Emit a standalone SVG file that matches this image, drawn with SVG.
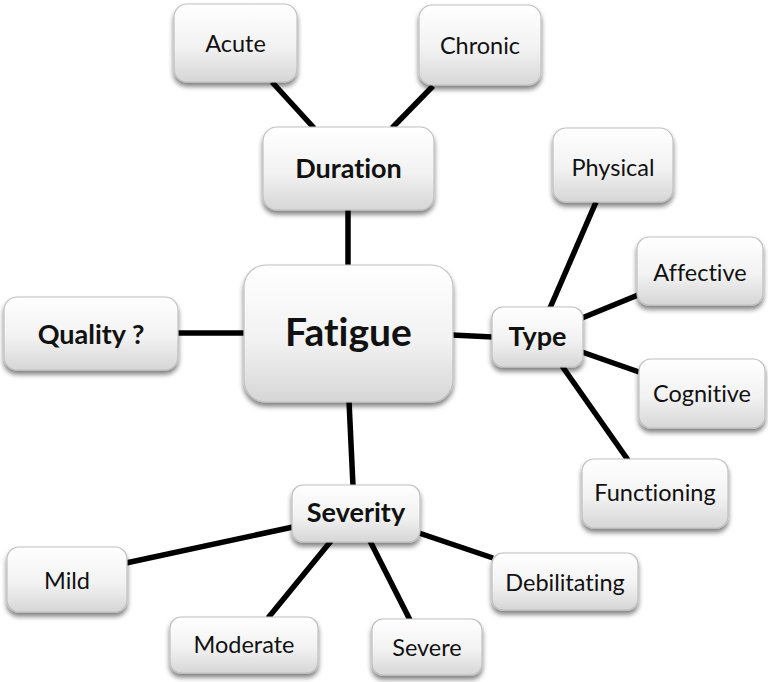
<svg xmlns="http://www.w3.org/2000/svg" width="768" height="682" viewBox="0 0 768 682">
<defs>
<linearGradient id="g" x1="0" y1="0" x2="0" y2="1">
<stop offset="0" stop-color="#ffffff"/>
<stop offset="0.55" stop-color="#f2f2f2"/>
<stop offset="1" stop-color="#d6d6d6"/>
</linearGradient>
<filter id="sh" x="-20%" y="-20%" width="140%" height="150%">
<feGaussianBlur in="SourceAlpha" stdDeviation="2.5"/>
<feOffset dx="0" dy="4" result="b"/>
<feComponentTransfer><feFuncA type="linear" slope="0.5"/></feComponentTransfer>
<feMerge><feMergeNode/><feMergeNode in="SourceGraphic"/></feMerge>
</filter>
</defs>
<style>
.box{fill:url(#g);stroke:#c0c0c0;stroke-width:1.2;filter:url(#sh)}
.t{font-family:Lato,"Liberation Sans",sans-serif;font-size:23.5px;fill:#111;text-anchor:middle;font-variant-ligatures:none;font-feature-settings:"liga" 0}
.b{font-family:Lato,"Liberation Sans",sans-serif;font-size:27px;font-weight:bold;fill:#111;text-anchor:middle;font-variant-ligatures:none;font-feature-settings:"liga" 0}
.c{stroke:#000;stroke-width:5.5;fill:none}
</style>
<g id="connectors">
<line class="c" x1="272" y1="82" x2="314" y2="128"/>
<line class="c" x1="433" y1="86" x2="392" y2="128"/>
<line class="c" x1="348" y1="210" x2="348" y2="266"/>
<line class="c" x1="178" y1="333" x2="245" y2="333"/>
<line class="c" x1="452" y1="335" x2="493" y2="337"/>
<line class="c" x1="596" y1="202" x2="550" y2="308"/>
<line class="c" x1="582" y1="318" x2="638" y2="295"/>
<line class="c" x1="582" y1="352" x2="639" y2="372"/>
<line class="c" x1="562" y1="366" x2="628" y2="460"/>
<line class="c" x1="349" y1="401" x2="353" y2="486"/>
<line class="c" x1="126" y1="563" x2="293" y2="527"/>
<line class="c" x1="331" y1="541" x2="268" y2="618"/>
<line class="c" x1="370" y1="541" x2="410" y2="620"/>
<line class="c" x1="419" y1="533" x2="493" y2="558"/>
</g>
<g id="acute"><rect class="box" x="174" y="4" width="123" height="78" rx="13"/><text class="t" x="235.5" y="52">Acute</text></g>
<g id="chronic"><rect class="box" x="419" y="5" width="122" height="80" rx="13"/><text class="t" x="480" y="54">Chronic</text></g>
<g id="duration"><rect class="box" x="263" y="127" width="171" height="83" rx="14"/><text class="b" x="348.5" y="178">Duration</text></g>
<g id="fatigue"><rect class="box" x="244" y="265" width="209" height="137" rx="22"/><text class="b" x="348.5" y="346" style="font-size:39px">Fatigue</text></g>
<g id="quality"><rect class="box" x="4" y="297" width="174" height="73" rx="13"/><text class="b" x="91" y="344">Quality ?</text></g>
<g id="type"><rect class="box" x="492" y="307" width="91" height="60" rx="11"/><text class="b" x="537.5" y="346">Type</text></g>
<g id="physical"><rect class="box" x="553" y="128" width="120" height="74" rx="13"/><text class="t" x="613" y="176">Physical</text></g>
<g id="affective"><rect class="box" x="637" y="237" width="126" height="68" rx="12"/><text class="t" x="700" y="281">Affective</text></g>
<g id="cognitive"><rect class="box" x="639" y="359" width="126" height="69" rx="12"/><text class="t" x="702" y="402">Cognitive</text></g>
<g id="functioning"><rect class="box" x="582" y="459" width="146" height="69" rx="12"/><text class="t" x="655" y="501">Functioning</text></g>
<g id="severity"><rect class="box" x="292" y="485" width="128" height="57" rx="11"/><text class="b" x="356" y="522">Severity</text></g>
<g id="mild"><rect class="box" x="7" y="547" width="120" height="65" rx="12"/><text class="t" x="67" y="589">Mild</text></g>
<g id="moderate"><rect class="box" x="170" y="617" width="148" height="56" rx="11"/><text class="t" x="244" y="653">Moderate</text></g>
<g id="severe"><rect class="box" x="372" y="619" width="110" height="56" rx="11"/><text class="t" x="427" y="656">Severe</text></g>
<g id="debilitating"><rect class="box" x="492" y="553" width="146" height="57" rx="11"/><text class="t" x="565" y="591">Debilitating</text></g>
</svg>
